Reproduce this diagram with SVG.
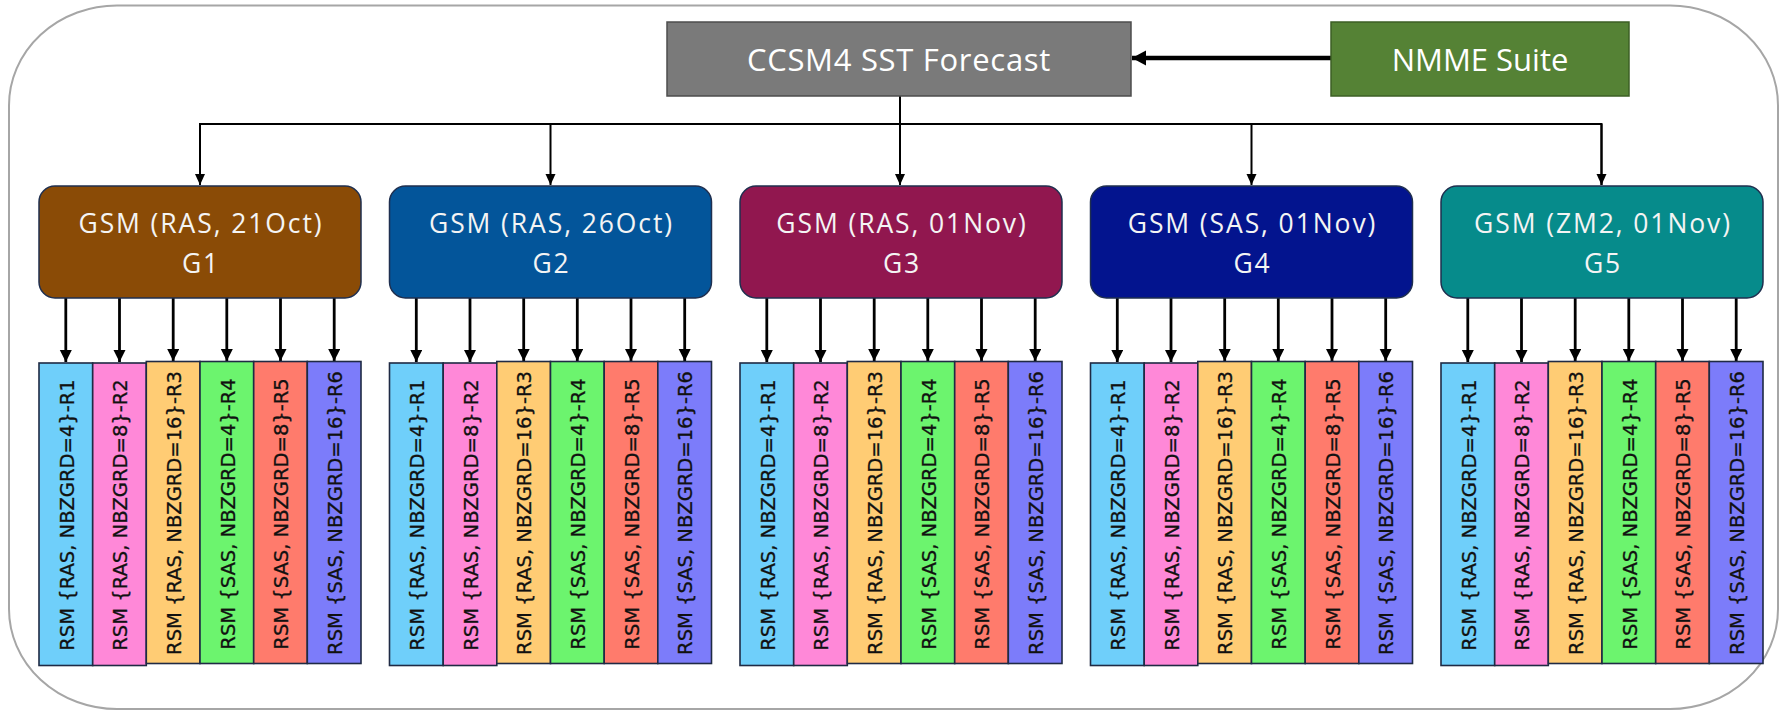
<svg xmlns="http://www.w3.org/2000/svg" width="1780" height="711" viewBox="0 0 1780 711">
  <defs>
    <style>
      .frame { fill: #ffffff; stroke: #a6a6a6; stroke-width: 2; }
      .top { stroke-width: 1.5; }
      .top-t { font-family: "Open Sans", "DejaVu Sans", sans-serif; font-size: 31px; fill: #ffffff; text-anchor: middle; }
      .gsm { stroke: #1f2f4f; stroke-width: 1.5; }
      .gsm-t { font-family: "Open Sans", "DejaVu Sans", sans-serif; font-size: 26.5px; letter-spacing: 1.9px; fill: #f4f4f4; text-anchor: middle; }
      .rsm { stroke: #1f2a44; stroke-width: 1.6; }
      .rsm-t { font-family: "DejaVu Sans", "Liberation Sans", sans-serif; font-size: 19.5px; fill: #111111; stroke: #111111; stroke-width: 0.3; text-anchor: middle; dominant-baseline: central; }
      .r1 { fill: #6fcffa; } .r2 { fill: #ff88d8; } .r3 { fill: #ffcc74; }
      .r4 { fill: #6cf46e; } .r5 { fill: #ff7b6c; } .r6 { fill: #7c7cfa; }
      .bus { fill: none; stroke: #000000; stroke-width: 2; }
      .feed { fill: none; stroke: #000000; stroke-width: 2.8; }
      .thick { fill: none; stroke: #000000; stroke-width: 4.5; }
    </style>
    <marker id="ah-s" markerUnits="userSpaceOnUse" markerWidth="12" markerHeight="12" refX="11" refY="5" orient="auto">
      <path d="M0,0 L11,5 L0,10 z" fill="#000000"/>
    </marker>
    <marker id="ah-m" markerUnits="userSpaceOnUse" markerWidth="14" markerHeight="14" refX="12" refY="6" orient="auto">
      <path d="M0,0 L12,6 L0,12 z" fill="#000000"/>
    </marker>
    <marker id="ah-l" markerUnits="userSpaceOnUse" markerWidth="16" markerHeight="16" refX="14" refY="7.5" orient="auto">
      <path d="M0,0 L14,7.5 L0,15 z" fill="#000000"/>
    </marker>
  </defs>

  <!-- outer frame -->
  <rect class="frame" x="9" y="5.5" width="1769" height="703.5" rx="108" ry="100"/>

  <!-- connectors -->
  <g id="connectors">
    <line class="thick" x1="1331" y1="58" x2="1132" y2="58" marker-end="url(#ah-l)"/>
    <line class="bus" x1="900" y1="96" x2="900" y2="185" marker-end="url(#ah-s)"/>
    <polyline class="bus" points="200,185 200,124 1601.5,124 1601.5,185"/>
    <line class="bus" x1="200" y1="124" x2="200" y2="185" marker-end="url(#ah-s)"/>
    <line class="bus" x1="550.5" y1="124" x2="550.5" y2="185" marker-end="url(#ah-s)"/>
    <line class="bus" x1="1251.5" y1="124" x2="1251.5" y2="185" marker-end="url(#ah-s)"/>
    <line class="bus" x1="1601.5" y1="124" x2="1601.5" y2="185" marker-end="url(#ah-s)"/>
    <g id="feeds-G1" transform="translate(39,0)">
      <line class="feed" x1="26.8" y1="298" x2="26.8" y2="362" marker-end="url(#ah-m)"/>
      <line class="feed" x1="80.5" y1="298" x2="80.5" y2="362" marker-end="url(#ah-m)"/>
      <line class="feed" x1="134.2" y1="298" x2="134.2" y2="361" marker-end="url(#ah-m)"/>
      <line class="feed" x1="187.8" y1="298" x2="187.8" y2="361" marker-end="url(#ah-m)"/>
      <line class="feed" x1="241.5" y1="298" x2="241.5" y2="361" marker-end="url(#ah-m)"/>
      <line class="feed" x1="295.2" y1="298" x2="295.2" y2="361" marker-end="url(#ah-m)"/>
    </g>
    <g id="feeds-G2" transform="translate(389.5,0)">
      <line class="feed" x1="26.8" y1="298" x2="26.8" y2="362" marker-end="url(#ah-m)"/>
      <line class="feed" x1="80.5" y1="298" x2="80.5" y2="362" marker-end="url(#ah-m)"/>
      <line class="feed" x1="134.2" y1="298" x2="134.2" y2="361" marker-end="url(#ah-m)"/>
      <line class="feed" x1="187.8" y1="298" x2="187.8" y2="361" marker-end="url(#ah-m)"/>
      <line class="feed" x1="241.5" y1="298" x2="241.5" y2="361" marker-end="url(#ah-m)"/>
      <line class="feed" x1="295.2" y1="298" x2="295.2" y2="361" marker-end="url(#ah-m)"/>
    </g>
    <g id="feeds-G3" transform="translate(740,0)">
      <line class="feed" x1="26.8" y1="298" x2="26.8" y2="362" marker-end="url(#ah-m)"/>
      <line class="feed" x1="80.5" y1="298" x2="80.5" y2="362" marker-end="url(#ah-m)"/>
      <line class="feed" x1="134.2" y1="298" x2="134.2" y2="361" marker-end="url(#ah-m)"/>
      <line class="feed" x1="187.8" y1="298" x2="187.8" y2="361" marker-end="url(#ah-m)"/>
      <line class="feed" x1="241.5" y1="298" x2="241.5" y2="361" marker-end="url(#ah-m)"/>
      <line class="feed" x1="295.2" y1="298" x2="295.2" y2="361" marker-end="url(#ah-m)"/>
    </g>
    <g id="feeds-G4" transform="translate(1090.5,0)">
      <line class="feed" x1="26.8" y1="298" x2="26.8" y2="362" marker-end="url(#ah-m)"/>
      <line class="feed" x1="80.5" y1="298" x2="80.5" y2="362" marker-end="url(#ah-m)"/>
      <line class="feed" x1="134.2" y1="298" x2="134.2" y2="361" marker-end="url(#ah-m)"/>
      <line class="feed" x1="187.8" y1="298" x2="187.8" y2="361" marker-end="url(#ah-m)"/>
      <line class="feed" x1="241.5" y1="298" x2="241.5" y2="361" marker-end="url(#ah-m)"/>
      <line class="feed" x1="295.2" y1="298" x2="295.2" y2="361" marker-end="url(#ah-m)"/>
    </g>
    <g id="feeds-G5" transform="translate(1441,0)">
      <line class="feed" x1="26.8" y1="298" x2="26.8" y2="362" marker-end="url(#ah-m)"/>
      <line class="feed" x1="80.5" y1="298" x2="80.5" y2="362" marker-end="url(#ah-m)"/>
      <line class="feed" x1="134.2" y1="298" x2="134.2" y2="361" marker-end="url(#ah-m)"/>
      <line class="feed" x1="187.8" y1="298" x2="187.8" y2="361" marker-end="url(#ah-m)"/>
      <line class="feed" x1="241.5" y1="298" x2="241.5" y2="361" marker-end="url(#ah-m)"/>
      <line class="feed" x1="295.2" y1="298" x2="295.2" y2="361" marker-end="url(#ah-m)"/>
    </g>
  </g>

  <!-- forcing sources -->
  <g id="ccsm4">
    <rect class="top" x="667" y="22" width="464" height="74" fill="#7a7a7a" stroke="#4d4d4d"/>
    <text class="top-t" x="899" y="71" letter-spacing="0.7">CCSM4 SST Forecast</text>
  </g>
  <g id="nmme">
    <rect class="top" x="1331" y="22" width="298" height="74" fill="#558235" stroke="#3c5f25"/>
    <text class="top-t" x="1480" y="71" font-size="29.5">NMME Suite</text>
  </g>

  <!-- global model runs -->
  <g id="G1" transform="translate(39,0)">
    <rect class="gsm" x="0" y="186" width="322" height="112" rx="16" fill="#8a4b06"/>
    <text class="gsm-t" x="162" y="233">GSM (RAS, 21Oct)</text>
    <text class="gsm-t" x="162" y="273">G1</text>
  </g>
  <g id="G2" transform="translate(389.5,0)">
    <rect class="gsm" x="0" y="186" width="322" height="112" rx="16" fill="#03559a"/>
    <text class="gsm-t" x="162" y="233">GSM (RAS, 26Oct)</text>
    <text class="gsm-t" x="162" y="273">G2</text>
  </g>
  <g id="G3" transform="translate(740,0)">
    <rect class="gsm" x="0" y="186" width="322" height="112" rx="16" fill="#91174f"/>
    <text class="gsm-t" x="162" y="233">GSM (RAS, 01Nov)</text>
    <text class="gsm-t" x="162" y="273">G3</text>
  </g>
  <g id="G4" transform="translate(1090.5,0)">
    <rect class="gsm" x="0" y="186" width="322" height="112" rx="16" fill="#03148e"/>
    <text class="gsm-t" x="162" y="233">GSM (SAS, 01Nov)</text>
    <text class="gsm-t" x="162" y="273">G4</text>
  </g>
  <g id="G5" transform="translate(1441,0)">
    <rect class="gsm" x="0" y="186" width="322" height="112" rx="16" fill="#068b8b"/>
    <text class="gsm-t" x="162" y="233">GSM (ZM2, 01Nov)</text>
    <text class="gsm-t" x="162" y="273">G5</text>
  </g>

  <!-- regional model runs, six per global run -->
  <g id="G1-rsm" transform="translate(39,0)">
    <g id="G1-R1"><rect class="rsm r1" x="0" y="363" width="53.7" height="302.5"/><text class="rsm-t" transform="translate(28,515) rotate(-90)">RSM {RAS, NBZGRD=4}-R1</text></g>
    <g id="G1-R2"><rect class="rsm r2" x="53.7" y="363" width="53.6" height="302.5"/><text class="rsm-t" transform="translate(81.7,515) rotate(-90)">RSM {RAS, NBZGRD=8}-R2</text></g>
    <g id="G1-R3"><rect class="rsm r3" x="107.3" y="361.5" width="53.7" height="302"/><text class="rsm-t" transform="translate(135.4,513) rotate(-90)">RSM {RAS, NBZGRD=16}-R3</text></g>
    <g id="G1-R4"><rect class="rsm r4" x="161" y="361.5" width="53.7" height="302"/><text class="rsm-t" transform="translate(189,514) rotate(-90)">RSM {SAS, NBZGRD=4}-R4</text></g>
    <g id="G1-R5"><rect class="rsm r5" x="214.7" y="361.5" width="53.6" height="302"/><text class="rsm-t" transform="translate(242.7,514) rotate(-90)">RSM {SAS, NBZGRD=8}-R5</text></g>
    <g id="G1-R6"><rect class="rsm r6" x="268.3" y="361.5" width="53.7" height="302"/><text class="rsm-t" transform="translate(296.4,513) rotate(-90)">RSM {SAS, NBZGRD=16}-R6</text></g>
  </g>
  <g id="G2-rsm" transform="translate(389.5,0)">
    <g id="G2-R1"><rect class="rsm r1" x="0" y="363" width="53.7" height="302.5"/><text class="rsm-t" transform="translate(28,515) rotate(-90)">RSM {RAS, NBZGRD=4}-R1</text></g>
    <g id="G2-R2"><rect class="rsm r2" x="53.7" y="363" width="53.6" height="302.5"/><text class="rsm-t" transform="translate(81.7,515) rotate(-90)">RSM {RAS, NBZGRD=8}-R2</text></g>
    <g id="G2-R3"><rect class="rsm r3" x="107.3" y="361.5" width="53.7" height="302"/><text class="rsm-t" transform="translate(135.4,513) rotate(-90)">RSM {RAS, NBZGRD=16}-R3</text></g>
    <g id="G2-R4"><rect class="rsm r4" x="161" y="361.5" width="53.7" height="302"/><text class="rsm-t" transform="translate(189,514) rotate(-90)">RSM {SAS, NBZGRD=4}-R4</text></g>
    <g id="G2-R5"><rect class="rsm r5" x="214.7" y="361.5" width="53.6" height="302"/><text class="rsm-t" transform="translate(242.7,514) rotate(-90)">RSM {SAS, NBZGRD=8}-R5</text></g>
    <g id="G2-R6"><rect class="rsm r6" x="268.3" y="361.5" width="53.7" height="302"/><text class="rsm-t" transform="translate(296.4,513) rotate(-90)">RSM {SAS, NBZGRD=16}-R6</text></g>
  </g>
  <g id="G3-rsm" transform="translate(740,0)">
    <g id="G3-R1"><rect class="rsm r1" x="0" y="363" width="53.7" height="302.5"/><text class="rsm-t" transform="translate(28,515) rotate(-90)">RSM {RAS, NBZGRD=4}-R1</text></g>
    <g id="G3-R2"><rect class="rsm r2" x="53.7" y="363" width="53.6" height="302.5"/><text class="rsm-t" transform="translate(81.7,515) rotate(-90)">RSM {RAS, NBZGRD=8}-R2</text></g>
    <g id="G3-R3"><rect class="rsm r3" x="107.3" y="361.5" width="53.7" height="302"/><text class="rsm-t" transform="translate(135.4,513) rotate(-90)">RSM {RAS, NBZGRD=16}-R3</text></g>
    <g id="G3-R4"><rect class="rsm r4" x="161" y="361.5" width="53.7" height="302"/><text class="rsm-t" transform="translate(189,514) rotate(-90)">RSM {SAS, NBZGRD=4}-R4</text></g>
    <g id="G3-R5"><rect class="rsm r5" x="214.7" y="361.5" width="53.6" height="302"/><text class="rsm-t" transform="translate(242.7,514) rotate(-90)">RSM {SAS, NBZGRD=8}-R5</text></g>
    <g id="G3-R6"><rect class="rsm r6" x="268.3" y="361.5" width="53.7" height="302"/><text class="rsm-t" transform="translate(296.4,513) rotate(-90)">RSM {SAS, NBZGRD=16}-R6</text></g>
  </g>
  <g id="G4-rsm" transform="translate(1090.5,0)">
    <g id="G4-R1"><rect class="rsm r1" x="0" y="363" width="53.7" height="302.5"/><text class="rsm-t" transform="translate(28,515) rotate(-90)">RSM {RAS, NBZGRD=4}-R1</text></g>
    <g id="G4-R2"><rect class="rsm r2" x="53.7" y="363" width="53.6" height="302.5"/><text class="rsm-t" transform="translate(81.7,515) rotate(-90)">RSM {RAS, NBZGRD=8}-R2</text></g>
    <g id="G4-R3"><rect class="rsm r3" x="107.3" y="361.5" width="53.7" height="302"/><text class="rsm-t" transform="translate(135.4,513) rotate(-90)">RSM {RAS, NBZGRD=16}-R3</text></g>
    <g id="G4-R4"><rect class="rsm r4" x="161" y="361.5" width="53.7" height="302"/><text class="rsm-t" transform="translate(189,514) rotate(-90)">RSM {SAS, NBZGRD=4}-R4</text></g>
    <g id="G4-R5"><rect class="rsm r5" x="214.7" y="361.5" width="53.6" height="302"/><text class="rsm-t" transform="translate(242.7,514) rotate(-90)">RSM {SAS, NBZGRD=8}-R5</text></g>
    <g id="G4-R6"><rect class="rsm r6" x="268.3" y="361.5" width="53.7" height="302"/><text class="rsm-t" transform="translate(296.4,513) rotate(-90)">RSM {SAS, NBZGRD=16}-R6</text></g>
  </g>
  <g id="G5-rsm" transform="translate(1441,0)">
    <g id="G5-R1"><rect class="rsm r1" x="0" y="363" width="53.7" height="302.5"/><text class="rsm-t" transform="translate(28,515) rotate(-90)">RSM {RAS, NBZGRD=4}-R1</text></g>
    <g id="G5-R2"><rect class="rsm r2" x="53.7" y="363" width="53.6" height="302.5"/><text class="rsm-t" transform="translate(81.7,515) rotate(-90)">RSM {RAS, NBZGRD=8}-R2</text></g>
    <g id="G5-R3"><rect class="rsm r3" x="107.3" y="361.5" width="53.7" height="302"/><text class="rsm-t" transform="translate(135.4,513) rotate(-90)">RSM {RAS, NBZGRD=16}-R3</text></g>
    <g id="G5-R4"><rect class="rsm r4" x="161" y="361.5" width="53.7" height="302"/><text class="rsm-t" transform="translate(189,514) rotate(-90)">RSM {SAS, NBZGRD=4}-R4</text></g>
    <g id="G5-R5"><rect class="rsm r5" x="214.7" y="361.5" width="53.6" height="302"/><text class="rsm-t" transform="translate(242.7,514) rotate(-90)">RSM {SAS, NBZGRD=8}-R5</text></g>
    <g id="G5-R6"><rect class="rsm r6" x="268.3" y="361.5" width="53.7" height="302"/><text class="rsm-t" transform="translate(296.4,513) rotate(-90)">RSM {SAS, NBZGRD=16}-R6</text></g>
  </g>
</svg>
